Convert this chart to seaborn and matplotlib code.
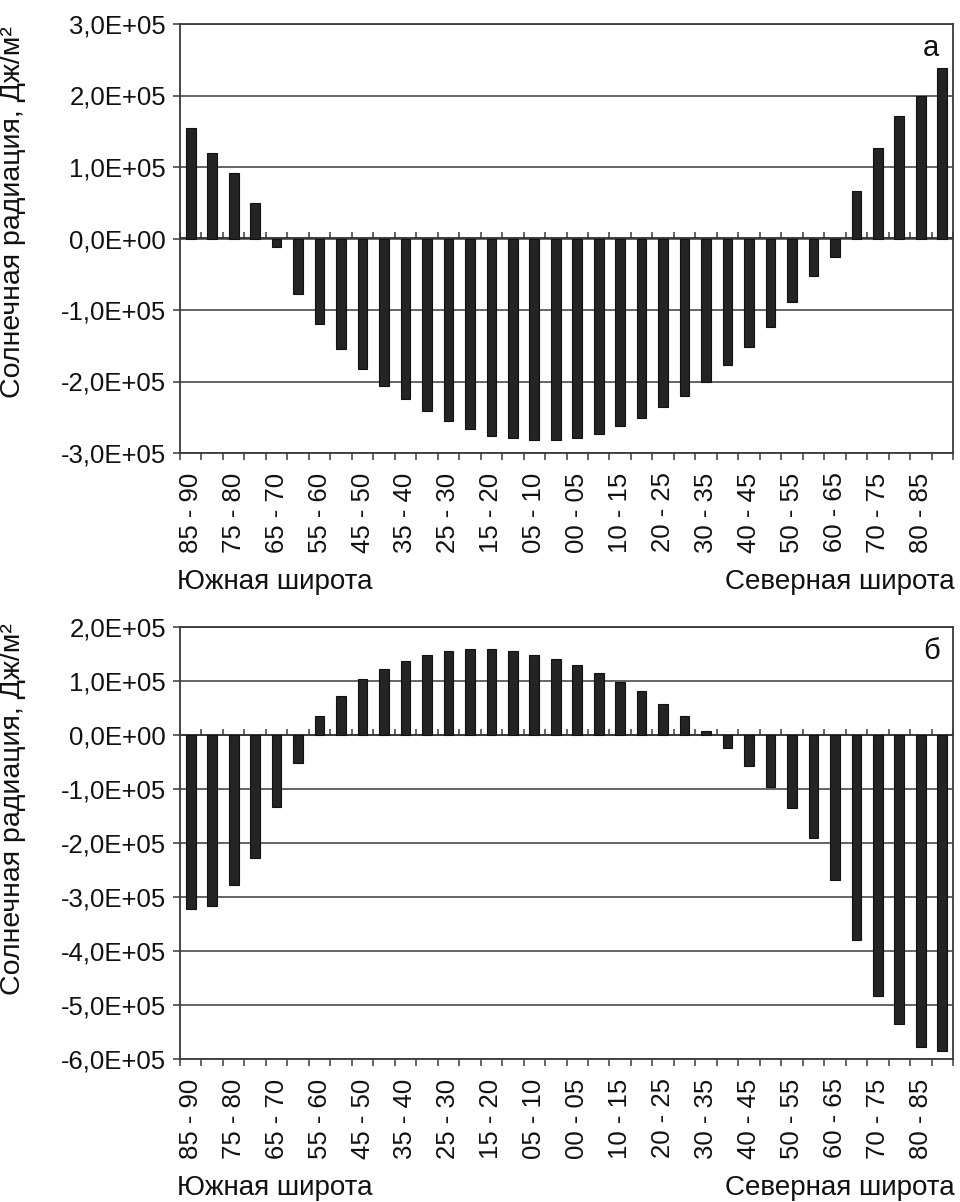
import matplotlib
matplotlib.use("Agg")
import matplotlib.pyplot as plt
import seaborn as sns
import numpy as np
import pandas as pd
from matplotlib.ticker import FixedLocator, FuncFormatter

sns.set_theme(style="white")
plt.rcParams['font.family'] = ['Liberation Sans', 'DejaVu Sans']

# ---- data ----
south_bands = ["85 - 90", "80 - 85", "75 - 80", "70 - 75", "65 - 70", "60 - 65",
               "55 - 60", "50 - 55", "45 - 50", "40 - 45", "35 - 40", "30 - 35",
               "25 - 30", "20 - 25", "15 - 20", "10 - 15", "05 - 10", "00 - 05"]
north_bands = ["00 - 05", "05 - 10", "10 - 15", "15 - 20", "20 - 25", "25 - 30",
               "30 - 35", "35 - 40", "40 - 45", "45 - 50", "50 - 55", "55 - 60",
               "60 - 65", "65 - 70", "70 - 75", "75 - 80", "80 - 85", "85 - 90"]
bands = south_bands + north_bands

values_a = [155000, 120000, 92000, 49000, -12000, -77000, -120000, -155000,
            -183000, -206000, -225000, -241000, -255000, -267000, -276000,
            -279000, -282000, -282000, -279000, -273000, -262000, -251000,
            -236000, -220000, -200000, -177000, -152000, -124000, -89000,
            -52000, -26000, 66000, 126000, 172000, 199000, 238000]

values_b = [-322000, -316000, -277000, -228000, -134000, -51000, 35000, 73000,
            104000, 122000, 137000, 149000, 156000, 160000, 160000, 156000,
            149000, 141000, 130000, 115000, 99000, 81000, 57000, 35000, 8000,
            -24000, -58000, -97000, -136000, -190000, -269000, -380000,
            -483000, -536000, -578000, -586000]

ylim_a = (-300000, 300000)
ylim_b = (-600000, 200000)
ylabel = "Солнечная радиация, Дж/м²"
south_label = "Южная широта"
north_label = "Северная широта"
panel_letters = ["а", "б"]

bar_color = "#242424"
line_color = "#3a3a3a"

fig = plt.figure(figsize=(9.6, 12.02), dpi=100)
ax_a = fig.add_axes([180/960, 1-453/1202, 773/960, 429/1202])
ax_b = fig.add_axes([180/960, 1-1059/1202, 773/960, 432/1202])

def fmt(v, pos):
    s = f"{v:.1E}".replace(".", ",")
    if s.startswith("-0,0"):
        s = s[1:]
    return s

def draw(ax, values, ylim, letter, ylab_y, text_y):
    df = pd.DataFrame({"pos": np.arange(len(values)), "val": values})
    sns.barplot(data=df, x="pos", y="val", ax=ax, color=bar_color, width=0.45,
                edgecolor="#111111", linewidth=0.8, saturation=1)
    n = len(values)
    ax.set_xlim(-0.5, n - 0.5)
    ax.set_ylim(*ylim)
    ax.set_yticks(np.arange(ylim[0], ylim[1] + 1, 100000))
    ax.yaxis.set_major_formatter(FuncFormatter(fmt))
    ax.yaxis.grid(True, color=line_color, linewidth=1.1)
    ax.set_axisbelow(True)
    # x labels every other band
    ticks = list(range(0, n, 2))
    ax.set_xticks(ticks)
    ax.set_xticklabels([bands[i] for i in ticks], rotation=90)
    ax.xaxis.set_minor_locator(FixedLocator(np.arange(-0.5, n, 1.0)))
    ax.tick_params(axis="x", which="major", length=0, pad=14, labelsize=18.5,
                   colors="#111111")
    ax.tick_params(axis="x", which="minor", bottom=True, length=5, width=1.1,
                   direction="out", color=line_color)
    ax.tick_params(axis="y", which="major", left=True, length=5, width=1.1,
                   direction="out", pad=5, labelsize=18.5, color=line_color,
                   labelcolor="#111111")
    for sp in ax.spines.values():
        sp.set_visible(True)
        sp.set_color(line_color)
        sp.set_linewidth(1.3)
    ax.set_xlabel("")
    ax.set_ylabel(ylabel, fontsize=20.5, color="#111111")
    ax.yaxis.set_label_coords(-0.199, ylab_y)
    # small ticks along the zero line
    y0 = (0 - ylim[0]) / (ylim[1] - ylim[0])
    sec = ax.secondary_xaxis(y0)
    sec.set_xticks(np.arange(-0.5, n, 1.0))
    sec.set_xticklabels([])
    sec.tick_params(axis="x", length=4, width=1.1, direction="out",
                    color=line_color)
    sec.spines["bottom"].set_color(line_color)
    sec.spines["bottom"].set_linewidth(1.3)
    ax.text(0.972, 0.945, letter, transform=ax.transAxes, ha="center",
            va="center", fontsize=21, color="#111111")
    fig.text(177/960, text_y, south_label, ha="left", va="center",
             fontsize=20, color="#111111")
    fig.text(955/960, text_y, north_label, ha="right", va="center",
             fontsize=20, color="#111111")

draw(ax_a, values_a, ylim_a, panel_letters[0], 0.562, 1-582/1202)
draw(ax_b, values_b, ylim_b, panel_letters[1], 0.578, 1-1188/1202)

fig.savefig("out.png", dpi=100, facecolor="white")
